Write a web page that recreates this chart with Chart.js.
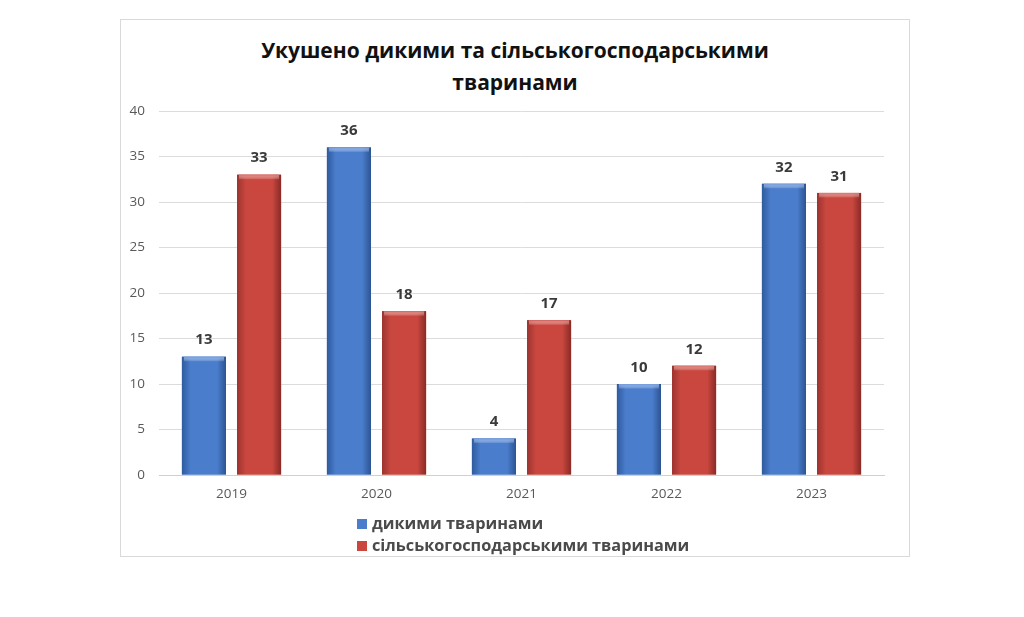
<!DOCTYPE html>
<html>
<head>
<meta charset="utf-8">
<script src="https://cdn.jsdelivr.net/npm/chart.js@4"></script>
<style>
  html,body{margin:0;padding:0;background:#fff;width:1024px;height:617px;overflow:hidden;font-family:"Open Sans",sans-serif}
  #box{position:absolute;left:120px;top:19px;width:788px;height:536px;border:1px solid #d9d9d9;background:#fff}
  #box canvas{position:absolute;left:0;top:0}
  #title{position:absolute;left:0;top:14px;width:788px;text-align:center;font-weight:bold;font-size:21px;line-height:32px;color:#111}
  #legend{position:absolute;left:236px;top:492px;font-weight:bold;font-size:16.3px;color:#4a4a4a;line-height:22px}
  #legend .sw{display:inline-block;width:10px;height:10px;margin-right:5px;vertical-align:0}
</style>
</head>
<body>
<div id="box">
  <div id="title"></div>
  <canvas id="c" width="788" height="536"></canvas>
  <div id="legend"></div>
</div>
<script>
const years = ['2019','2020','2021','2022','2023'];
const wild = [13, 36, 4, 10, 32];
const farm = [33, 18, 17, 12, 31];
const seriesNames = ['дикими тваринами', 'сільськогосподарськими тваринами'];
const titleLines = ['Укушено дикими та сільськогосподарськими', 'тваринами'];

const shades = [
  {base:'#4575c4', stops:['#2f5a9e','#4a7dcc','#4a7dcc','#2c5492'], top:'#6f99dc'},
  {base:'#c4453f', stops:['#9c332f','#c9473f','#c9473f','#8a2a26'], top:'#d8706a'}
];

// bevel-ish gradient over each bar, like the office 3d style
const barShade = {
  id:'barShade',
  afterDatasetsDraw(chart){
    const ctx = chart.ctx;
    chart.data.datasets.forEach((ds, di)=>{
      const s = shades[di];
      chart.getDatasetMeta(di).data.forEach(el=>{
        const x0 = el.x - el.width/2, w = el.width, y0 = el.y, h = el.base - el.y;
        const g = ctx.createLinearGradient(x0, 0, x0 + w, 0);
        g.addColorStop(0, s.stops[0]);
        g.addColorStop(0.2, s.stops[1]);
        g.addColorStop(0.8, s.stops[2]);
        g.addColorStop(1, s.stops[3]);
        ctx.save();
        ctx.fillStyle = g;
        ctx.fillRect(x0, y0, w, h);
        const tg = ctx.createLinearGradient(0, y0, 0, y0 + 5);
        tg.addColorStop(0, s.top);
        tg.addColorStop(1, 'rgba(255,255,255,0)');
        ctx.fillStyle = tg;
        ctx.fillRect(x0 + 2, y0, w - 4, 5);
        ctx.restore();
      });
    });
  }
};

const valueLabels = {
  id:'valueLabels',
  afterDatasetsDraw(chart){
    const ctx = chart.ctx;
    ctx.save();
    ctx.font = 'bold 15px "Open Sans"';
    ctx.fillStyle = '#3a3a3a';
    ctx.textAlign = 'center';
    ctx.textBaseline = 'bottom';
    chart.data.datasets.forEach((ds, di)=>{
      chart.getDatasetMeta(di).data.forEach((el, i)=>{
        ctx.fillText(String(ds.data[i]), el.x, el.y - 9);
      });
    });
    ctx.restore();
  }
};

new Chart(document.getElementById('c'), {
  type:'bar',
  data:{
    labels: years,
    datasets:[
      {label: seriesNames[0], data: wild, backgroundColor: shades[0].base},
      {label: seriesNames[1], data: farm, backgroundColor: shades[1].base}
    ]
  },
  options:{
    responsive:false,
    animation:false,
    categoryPercentage:0.76,
    barPercentage:0.8,
    layout:{padding:{left:0, right:25, top:91, bottom:0}},
    plugins:{
      legend:{display:false},
      tooltip:{enabled:false},
      title:{display:false}
    },
    scales:{
      x:{
        grid:{display:false, drawTicks:false},
        border:{color:'#d0d0d0'},
        ticks:{color:'#595959', font:{family:'"Open Sans"', size:13.5}, padding:11},
        afterFit(s){ s.height = 81; }
      },
      y:{
        min:0, max:40,
        ticks:{stepSize:5, color:'#595959', font:{family:'"Open Sans"', size:13.5}, padding:14},
        grid:{color:'#dcdcdc', drawTicks:false},
        border:{display:false},
        afterFit(s){ s.width = 38; }
      }
    }
  },
  plugins:[barShade, valueLabels]
});

document.getElementById('title').innerHTML = titleLines.join('<br>');
document.getElementById('legend').innerHTML = seriesNames.map((n,i)=>
  `<div><span class="sw" style="background:${shades[i].stops[1]}"></span>${n}</div>`).join('');
</script>
</body>
</html>
